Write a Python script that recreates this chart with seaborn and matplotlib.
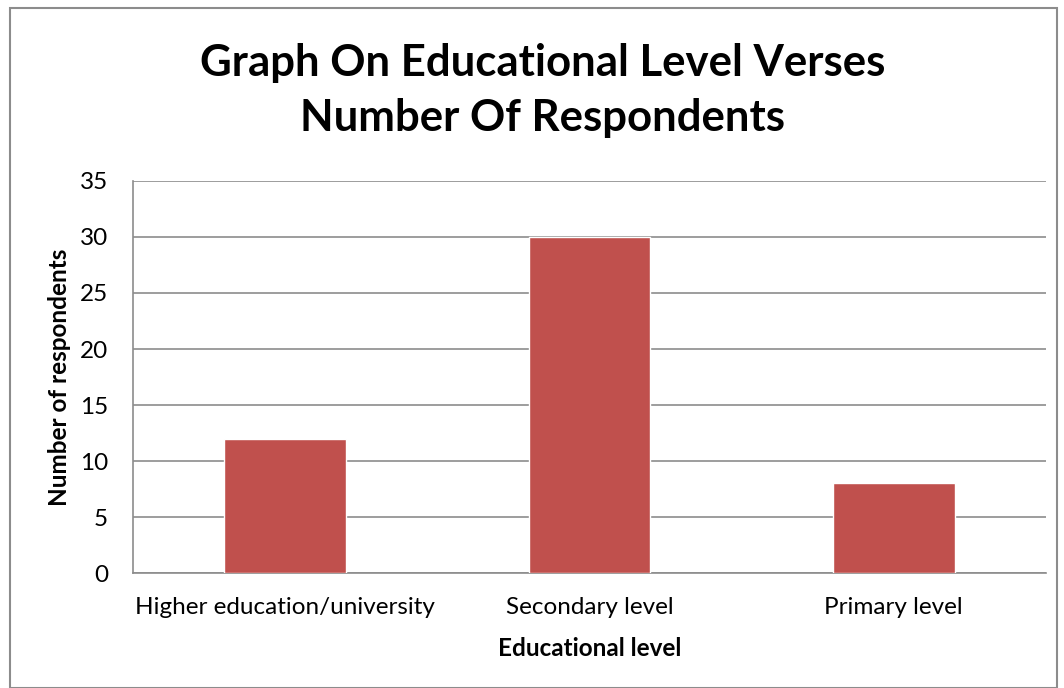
import matplotlib
matplotlib.use("Agg")
import matplotlib.pyplot as plt
import seaborn as sns
import pandas as pd
from matplotlib.patches import Rectangle

levels = ["Higher education/university", "Secondary level", "Primary level"]
respondents = [12, 30, 8]
yticks = [0, 5, 10, 15, 20, 25, 30, 35]

df = pd.DataFrame({"level": levels, "count": respondents})

sns.set_style("white")
plt.rcParams["font.family"] = ["Lato", "DejaVu Sans"]

fig = plt.figure(figsize=(10.64, 6.88), dpi=100)
ax = fig.add_axes([0.125, 0.167, 0.858, 0.570])

sns.barplot(data=df, x="level", y="count", color="#c0504d", width=0.4,
            saturation=1, ax=ax, zorder=3)

ax.set_ylim(0, 35)
ax.set_yticks(yticks)
ax.yaxis.grid(True, color="#8c8c8c", linewidth=1.2, zorder=0)
ax.set_axisbelow(True)
for side in ["top", "right"]:
    ax.spines[side].set_visible(False)
for side in ["left", "bottom"]:
    ax.spines[side].set_color("#8c8c8c")
    ax.spines[side].set_linewidth(1.2)
ax.tick_params(axis="both", labelsize=17.5, length=0, colors="black")
ax.tick_params(axis="x", pad=17)
ax.tick_params(axis="y", pad=18)

ax.set_xlabel("Educational level", fontsize=17.5, fontweight="bold",
              labelpad=14, color="black")
ax.set_ylabel("Number of respondents", fontsize=17.5, fontweight="bold",
              labelpad=6, color="black")

fig.text(0.51, 0.868, "Graph On Educational Level Verses\nNumber Of Respondents",
         ha="center", va="center", fontsize=31.5, fontweight="bold",
         linespacing=1.45, color="black")

fig.patches.append(Rectangle((10 / 1064, 0), 1047 / 1064, 680 / 688,
                             transform=fig.transFigure, fill=False,
                             edgecolor="#8c8c8c", linewidth=1.5))

fig.savefig("out.png", dpi=100)
